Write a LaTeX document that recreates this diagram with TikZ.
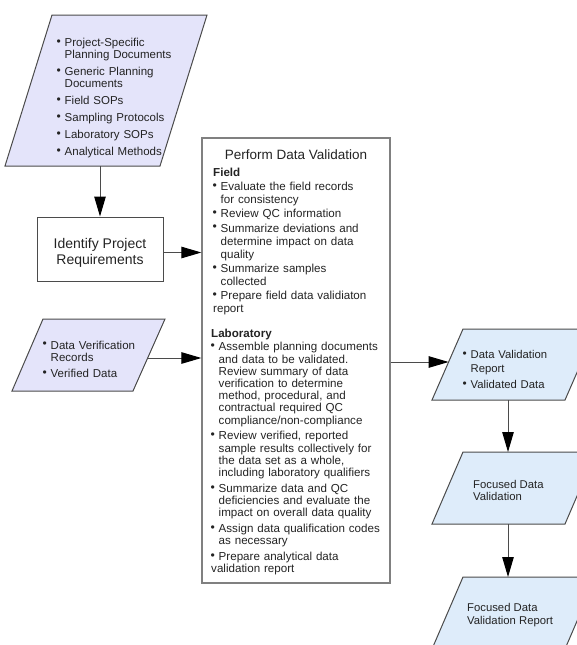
\documentclass[tikz,border=0pt]{standalone}
\usepackage{fontspec}
\usepackage{graphicx}
\setmainfont{Liberation Sans}
\usetikzlibrary{arrows.meta}
\definecolor{lav}{RGB}{228,228,250}
\definecolor{lblue}{RGB}{222,236,250}
\definecolor{edge}{RGB}{75,75,75}
\definecolor{boxedge}{RGB}{128,128,128}
\definecolor{txt}{RGB}{35,35,35}
\newlength\bulw
\setlength\bulw{7.5pt}
\newcommand\smallbul{\raisebox{1.2pt}{\scalebox{1.05}{\textbullet}}}
\newcommand\bul[1]{\par\hangindent=\bulw\hangafter=1\noindent\makebox[\bulw][l]{\hspace{-0.5pt}\smallbul}#1}
\tikzset{
  para/.style={draw=edge, line width=1pt},
  blk/.style={anchor=north west, inner sep=0pt, text=txt},
  arr/.style={draw=edge, line width=1pt, -{Triangle[length=20pt,width=11.5pt,color=black]}},
  procbox/.style={draw=edge, line width=1pt, fill=white, inner sep=0pt},
}
\begin{document}
\begin{tikzpicture}[x=1pt,y=-1pt]
\useasboundingbox (0,0) rectangle (577,645);
\clip (0,0) rectangle (577,645);

% ---------- left parallelogram 1
\draw[para, fill=lav] (52,15) -- (207,15) -- (160,166) -- (5,166) -- cycle;
\coordinate (p1b) at (99,166);
\node[blk, text width=120pt, font=\fontsize{11.5}{12.2}\selectfont] (t1) at (57,29) {%
\setlength\parskip{4.8pt}\raggedright
\bul{Project-Specific\newline Planning Documents}
\bul{Generic Planning\newline Documents}
\bul{Field SOPs}
\bul{Sampling Protocols}
\bul{Laboratory SOPs}
\bul{Analytical Methods}};

% ---------- requirements box
\node[procbox, minimum width=126pt, minimum height=64pt] (req) at (100,249) {};
\node[inner sep=0pt, align=center, text=txt, font=\fontsize{14}{16}\selectfont] (reqtxt) at ([yshift=-3.5pt]req.center) {Identify Project\\Requirements};

% ---------- left parallelogram 2
\draw[para, fill=lav] (43,319) -- (165,319) -- (133,391) -- (12,391) -- cycle;
\coordinate (p2r) at (147.7,358);
\node[blk, text width=110pt, font=\fontsize{11.5}{12.4}\selectfont] (t2) at (43,333) {%
\setlength\parskip{3.5pt}\raggedright
\bul{Data Verification\newline Records}
\bul{Verified Data}};

% ---------- main validation box
\node[draw=boxedge, line width=1.3pt, minimum width=188pt, minimum height=445pt, inner sep=0pt] (val) at (296,360.5) {};
\node[anchor=base, inner sep=0pt, text=txt, font=\fontsize{13.5}{15}\selectfont] (title) at (296,159) {Perform Data Validation};
\node[blk, text width=176pt, font=\fontsize{11.6}{13}\selectfont] (field) at (213,167.5) {%
\setlength\parskip{1.3pt}\raggedright
\noindent\textbf{Field}
\bul{Evaluate the field records\newline for consistency}
\bul{Review QC information}
\bul{Summarize deviations and\newline determine impact on data\newline quality}
\bul{Summarize samples\newline collected}
\bul{Prepare field data validiaton\newline report}};
\node[blk, text width=176pt, font=\fontsize{11.6}{12.2}\selectfont] (lab) at (211,328.5) {%
\setlength\parskip{3.6pt}\raggedright
\noindent\textbf{Laboratory}\par\vspace{-2pt}
\bul{Assemble planning documents\newline and data to be validated.\newline Review summary of data\newline verification to determine\newline method, procedural, and\newline contractual required QC\newline compliance/non-compliance}
\bul{Review verified, reported\newline sample results collectively for\newline the data set as a whole,\newline including laboratory qualifiers}
\bul{Summarize data and QC\newline deficiencies and evaluate the\newline impact on overall data quality}
\bul{Assign data qualification codes\newline as necessary}
\bul{Prepare analytical data\newline validation report}};

% ---------- right parallelograms
\draw[para, fill=lblue] (463,329) -- (596,329) -- (565,400) -- (432,400) -- cycle;
\coordinate (r1l) at (448.6,362);
\coordinate (r1b) at (508,400);
\node[blk, text width=110pt, font=\fontsize{11.3}{13.5}\selectfont] (t3) at (463,342.5) {%
\setlength\parskip{2.5pt}\raggedright
\bul{Data Validation\newline Report}
\bul{Validated Data}};

\draw[para, fill=lblue] (463,452) -- (596,452) -- (565,524) -- (432,524) -- cycle;
\coordinate (r2t) at (508,452);
\coordinate (r2b) at (508,524);
\node[blk, align=left, font=\fontsize{11.3}{12.5}\selectfont] (t4) at (473,480) {Focused Data\\Validation};

\draw[para, fill=lblue] (463,577) -- (596,577) -- (565,649) -- (432,649) -- cycle;
\coordinate (r3t) at (508,577);
\node[blk, align=left, font=\fontsize{11.3}{12.8}\selectfont] (t5) at (467,603) {Focused Data\\Validation Report};

% ---------- connectors
\draw[arr] (req.north |- p1b) -- (req.north);
\draw[arr] (req.east |- reqtxt) -- (reqtxt -| val.west);
\draw[arr] (p2r) -- (p2r -| val.west);
\draw[arr] (val.east |- r1l) -- (r1l);
\draw[arr] (r1b) -- (r2t);
\draw[arr] (r2b) -- (r3t);
\end{tikzpicture}
\end{document}
